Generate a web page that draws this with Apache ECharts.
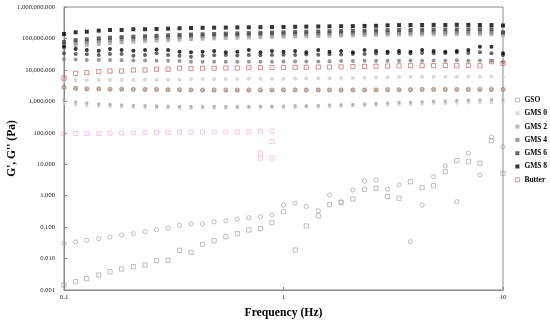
<!DOCTYPE html>
<html><head><meta charset="utf-8">
<script src="https://cdn.jsdelivr.net/npm/echarts@6/dist/echarts.min.js"></script>
<style>html,body{margin:0;padding:0;background:#fff}#c{width:550px;height:323px}</style>
</head><body><div id="c"></div>
<script>
const freq = [0.1,0.113,0.127,0.144,0.162,0.183,0.207,0.234,0.264,0.298,0.336,0.379,0.428,0.483,0.546,0.616,0.695,0.785,0.886,1,1.13,1.27,1.44,1.62,1.83,2.07,2.34,2.64,2.98,3.36,3.79,4.28,4.83,5.46,6.16,6.95,7.85,8.86,10];
const legendNames = ['GSO','GMS 0','GMS 2','GMS 4','GMS 6','GMS 8','Butter'];
const yTicks = [0.001,0.01,0.1,1,10,100,1000,10000,100000,1000000];
const xTicks = [0.1,1,10];

const gsoG1 = [0.00144,0.00184,0.00229,0.003,0.00382,0.00466,0.00551,0.00624,0.00855,0.00881,0.0183,0.0158,0.0285,0.037,0.0495,0.0618,0.0809,0.0891,0.138,0.309,0.0187,0.109,0.226,0.517,0.599,0.783,1.6,1.72,0.929,0.826,2.79,1.79,2.08,5.79,13.0,12.0,10.7,56.1,5.15];
const gsoG2 = [0.0305,0.0337,0.0381,0.0429,0.0486,0.0561,0.0618,0.0714,0.0828,0.0916,0.114,0.126,0.126,0.146,0.16,0.177,0.2,0.214,0.243,0.506,0.573,0.453,0.333,1.05,0.643,1.52,2.93,3.15,1.6,2.19,0.0343,0.506,4.02,8.79,0.643,22.3,4.55,71.9,36.1];

const gms0G1 = [4500,4800,4800,4800,4800,4800,4800,4900,4900,4900,4900,5100,5100,5100,5100,5100,5200,5200,5200,5200,5300,5300,5400,5400,5500,5500,5600,5700,5800,5900,6000,6000,6100,6100,6100,6200,6200,6200,6100];
const gms0G2 = [850,780,740,700,680,660,640,630,620,610,600,600,600,600,600,605,610,615,620,630,640,650,660,670,690,710,730,750,770,790,810,830,850,870,890,900,910,920,900];
const gms2G1 = [50000,58000,63000,67000,71000,75000,79000,83000,86000,89000,92000,95000,98000,101000,104000,106000,108000,110000,112000,114000,116000,118000,120000,122000,124000,126000,128000,130000,132000,133000,134000,135000,136000,137000,138000,138000,137000,136000,130000];
const gms2G2 = [1100,950,880,820,790,760,740,720,710,700,690,680,680,680,680,690,690,700,700,710,720,730,740,760,780,800,820,850,880,910,940,970,1000,1030,1060,1080,1100,1120,1100];
const gms2G3 = [2750,2550,2450,2450,2400,2400,2380,2350,2350,2330,2300,2280,2280,2270,2270,2270,2270,2270,2280,2280,2280,2280,2280,2290,2290,2290,2300,2300,2310,2320,2320,2330,2330,2340,2340,2350,2350,2350,2350];
const gms4G1 = [62000,73500,79000,85000,89000,93000,97000,100000,104000,108000,112000,116000,120000,123000,126000,129000,131000,133000,135000,136000,138000,140000,142000,144000,146000,148000,150000,152000,154000,155000,156000,157000,158000,158000,159000,159000,158000,157000,150000];
const gms4G2 = [22200,21500,20700,20700,20500,20300,20000,19800,19600,19400,19200,18200,18200,18000,18000,18200,18000,18200,18200,18400,18400,18600,18600,18800,19000,19200,19400,19600,19700,19700,20000,19700,20000,19700,20200,19700,20000,19000,17900];
const gms6G1 = [77000,89000,94000,101000,106000,110000,114000,118000,122000,126000,130000,133000,136000,139000,142000,145000,148000,151000,154000,157000,160000,163000,166000,169000,172000,175000,178000,181000,184000,186000,188000,190000,192000,193000,194000,195000,196000,196000,157000];
const gms6G2 = [33800,32100,31500,29900,32100,32100,28300,29900,33800,29900,28300,26300,28000,29000,29900,28500,29900,29000,29900,30500,29900,31000,30500,31500,31000,32100,32100,33000,33800,33800,33000,34500,33800,34500,35500,34500,36300,33800,30000];
const gms8G1 = [139000,157000,164000,177000,186000,186000,196000,196000,200000,205000,211000,215000,218000,220000,222000,224000,226000,228000,230000,232000,235000,238000,240000,243000,245000,247000,250000,253000,262000,265000,268000,268000,270000,268000,272000,270000,268000,266000,258000];
const gms8G2 = [54800,46200,43000,40900,46200,43000,40900,43000,44800,43000,38000,36300,38000,40000,36300,38000,43000,36300,40000,38000,40000,36300,43000,38000,40000,36300,43000,40000,38000,40000,38000,43000,40000,38000,40000,43000,54800,54800,33800];
const butterG1 = [5500,7800,8200,8800,9200,9200,9900,9900,10500,10500,11300,11000,11300,11300,11500,11500,11700,11700,11900,11900,12100,12100,12300,12300,12500,12700,12900,13100,13300,13500,13600,13600,13600,13800,13600,13800,13600,18200,16200];
const butterG2 = [2800,2600,2500,2500,2450,2450,2400,2400,2400,2350,2350,2300,2300,2300,2300,2300,2300,2300,2300,2300,2300,2300,2300,2300,2300,2300,2300,2300,2350,2350,2350,2400,2400,2400,2400,2400,2400,2400,2400];
const pinkVals = [92,95,95,95,97,99,100,101,102,103,104,104,105,105,106,106,108,111,113];
const pinkExtraF = [0.886,0.785,0.785,0.886];
const pinkExtraV = [52,23,15.5,15.5];

const colors = {'GSO':'#9a9a9a','GMS 0':'#cfcfcf','GMS 2':'#a6a6a6','GMS 4':'#7f7f7f','GMS 6':'#404040','GMS 8':'#000000','Butter':'#c0504d'};
const FONT = 'Liberation Serif, Times New Roman, serif';

function pts(arr){ return arr.map((v,i)=>[freq[i], v]); }
function filled(name, arr, sym, size){
  return {type:'scatter', name, data: pts(arr), symbol: sym, symbolSize: size||4, itemStyle:{color: colors[name]}, silent:true};
}
function hollow(name, arr, sym, color){
  return {type:'scatter', name, data: pts(arr), symbol: sym, symbolSize: 4.2,
    itemStyle:{color:'rgba(255,255,255,0)', borderColor: color||colors[name], borderWidth:0.8}, silent:true};
}

const series = [
  hollow('GSO', gsoG1, 'rect'),
  hollow('GSO', gsoG2, 'circle'),
  {type:'scatter', name:'pink', data: pinkVals.map((v,i)=>[freq[i], v]).concat(pinkExtraF.map((f,i)=>[f,pinkExtraV[i]])),
   symbol:'rect', symbolSize:4, itemStyle:{color:'rgba(255,255,255,0)', borderColor:'#f3a3d8', borderWidth:0.8}, silent:true},
  filled('GMS 0', gms0G1, 'circle'),
  filled('GMS 0', gms0G2, 'circle', 3.5),
  filled('GMS 2', gms2G1, 'rect'),
  filled('GMS 2', gms2G2, 'circle', 3.5),
  filled('GMS 2', gms2G3, 'circle'),
  filled('GMS 4', gms4G1, 'rect'),
  filled('GMS 4', gms4G2, 'circle'),
  filled('GMS 6', gms6G1, 'rect'),
  filled('GMS 6', gms6G2, 'circle'),
  filled('GMS 8', gms8G1, 'rect'),
  filled('GMS 8', gms8G2, 'circle'),
  hollow('Butter', butterG1, 'rect'),
  hollow('Butter', butterG2, 'circle', '#a86a50')
];

function fmtY(v){
  const n = Number(Number(v).toPrecision(6));
  return n.toLocaleString('en-US',{minimumFractionDigits:3, maximumFractionDigits:3});
}

const chart = echarts.init(document.getElementById('c'), null, {renderer:'canvas'});
chart.setOption({
  animation:false,
  backgroundColor:'#fff',
  grid:{left:64, right:47, top:7, bottom:33, show:true, borderColor:'#8a8a8a', borderWidth:1, containLabel:false, outerBoundsMode:'none'},
  legend:{
    orient:'vertical', left:510, top:90, itemWidth:4, itemHeight:4, itemGap:3.3,
    selectedMode:false,
    textStyle:{fontFamily:FONT, fontWeight:'bold', fontSize:7.5, color:'#000', lineHeight:10},
    data: legendNames.map(n => (n==='GSO' || n==='Butter')
      ? {name:n, icon:'rect', itemStyle:{color:'#fff', borderColor:colors[n], borderWidth:0.8}}
      : {name:n, icon:'rect', itemStyle:{color:colors[n], borderWidth:0}})
  },
  xAxis:{
    type:'log', logBase:10, min:xTicks[0], max:xTicks[xTicks.length-1],
    axisLine:{show:true, lineStyle:{color:'#8a8a8a', width:1}},
    axisTick:{show:true, inside:true, length:3, lineStyle:{color:'#8a8a8a'}},
    minorTick:{show:false},
    splitLine:{show:false},
    axisLabel:{fontFamily:FONT, fontSize:7, color:'#222', margin:4,
      formatter: v => { const n = Number(Number(v).toPrecision(6)); return xTicks.indexOf(n)>=0 ? String(n) : ''; }},
    name:'Frequency (Hz)', nameLocation:'middle', nameGap:17, nameMoveOverlap:false,
    nameTextStyle:{fontFamily:FONT, fontWeight:'bold', fontSize:11.7, color:'#000'}
  },
  yAxis:{
    type:'log', logBase:10, min:yTicks[0], max:yTicks[yTicks.length-1],
    axisLine:{show:true, lineStyle:{color:'#8a8a8a', width:1}},
    axisTick:{show:true, inside:true, length:3, lineStyle:{color:'#8a8a8a'}},
    splitLine:{show:false},
    axisLabel:{fontFamily:FONT, fontSize:6.6, color:'#222', margin:9, formatter: fmtY},
    name:"G', G'' (Pa)", nameLocation:'middle', nameRotate:90, nameGap:46, nameMoveOverlap:false,
    nameTextStyle:{fontFamily:FONT, fontWeight:'bold', fontSize:11.5, color:'#000'}
  },
  series
});
</script>
</body></html>
